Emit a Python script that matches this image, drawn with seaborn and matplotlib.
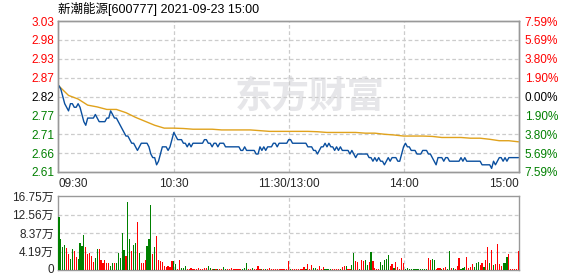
import numpy as np
import pandas as pd
import matplotlib
matplotlib.use("Agg")
import matplotlib.pyplot as plt
import matplotlib.transforms as mtransforms
import seaborn as sns

# ---------------- data ----------------
title = "新潮能源[600777] 2021-09-23 15:00"
time_ticks = [0, 60, 120, 180, 240]
time_labels = ["09:30", "10:30", "11:30/13:00", "14:00", "15:00"]
price_ticks = [2.61, 2.6625, 2.715, 2.7675, 2.82, 2.8725, 2.925, 2.9775, 3.03]
price_labels = ["2.61", "2.66", "2.71", "2.77", "2.82", "2.87", "2.93", "2.98", "3.03"]
pct_labels = ["7.59%", "5.69%", "3.80%", "1.90%", "0.00%", "1.90%", "3.80%", "5.69%", "7.59%"]
vol_ticks = [0, 4.19, 8.37, 12.56, 16.75]
vol_labels = ["0", "4.19万", "8.37万", "12.56万", "16.75万"]

# minute-by-minute price (09:30 .. 15:00, 241 points)
price = [
    2.85, 2.84, 2.82, 2.80, 2.79, 2.78, 2.80, 2.80, 2.79, 2.79,
    2.80, 2.79, 2.77, 2.75, 2.74, 2.76, 2.76, 2.76, 2.76, 2.77,
    2.76, 2.75, 2.75, 2.75, 2.75, 2.76, 2.76, 2.78, 2.77, 2.76,
    2.76, 2.75, 2.74, 2.73, 2.72, 2.71, 2.71, 2.70, 2.69, 2.69,
    2.68, 2.67, 2.68, 2.69, 2.69, 2.69, 2.69, 2.68, 2.66, 2.65,
    2.65, 2.63, 2.64, 2.66, 2.68, 2.68, 2.68, 2.67, 2.68, 2.70,
    2.72, 2.71, 2.70, 2.70, 2.70, 2.69, 2.69, 2.68, 2.69, 2.68,
    2.69, 2.69, 2.69, 2.69, 2.69, 2.69, 2.70, 2.70, 2.69, 2.69,
    2.68, 2.69, 2.69, 2.68, 2.69, 2.69, 2.69, 2.68, 2.68, 2.68,
    2.68, 2.68, 2.68, 2.68, 2.68, 2.67, 2.67, 2.68, 2.67, 2.67,
    2.67, 2.67, 2.67, 2.66, 2.66, 2.68, 2.67, 2.68, 2.67, 2.68,
    2.68, 2.68, 2.69, 2.69, 2.68, 2.69, 2.69, 2.69, 2.69, 2.69,
    2.70, 2.70, 2.69, 2.69, 2.69, 2.69, 2.69, 2.69, 2.69, 2.69,
    2.68, 2.68, 2.68, 2.67, 2.67, 2.66, 2.67, 2.68, 2.68, 2.69,
    2.68, 2.69, 2.68, 2.68, 2.67, 2.68, 2.67, 2.68, 2.67, 2.67,
    2.67, 2.67, 2.66, 2.67, 2.66, 2.65, 2.66, 2.66, 2.66, 2.66,
    2.66, 2.66, 2.65, 2.65, 2.64, 2.65, 2.64, 2.65, 2.64, 2.64,
    2.63, 2.64, 2.65, 2.64, 2.65, 2.65, 2.65, 2.64, 2.64, 2.66,
    2.68, 2.69, 2.68, 2.68, 2.67, 2.67, 2.67, 2.66, 2.66, 2.66,
    2.67, 2.67, 2.67, 2.66, 2.66, 2.65, 2.64, 2.63, 2.65, 2.65,
    2.65, 2.64, 2.65, 2.65, 2.64, 2.64, 2.64, 2.64, 2.64, 2.64,
    2.65, 2.64, 2.65, 2.64, 2.64, 2.64, 2.64, 2.64, 2.64, 2.64,
    2.64, 2.63, 2.63, 2.63, 2.63, 2.63, 2.62, 2.64, 2.63, 2.64,
    2.65, 2.65, 2.64, 2.65, 2.64, 2.65, 2.65, 2.65, 2.65, 2.65,
    2.65,
]

# average price line, read every 5 minutes
avg_time = list(range(0, 241, 5))
avg_price = [
    2.849, 2.823, 2.813, 2.796, 2.791, 2.784, 2.784, 2.775, 2.762, 2.751,
    2.740, 2.732, 2.732, 2.731, 2.729, 2.729, 2.729, 2.727, 2.727, 2.727,
    2.727, 2.725, 2.723, 2.723, 2.723, 2.723, 2.723, 2.722, 2.720, 2.720,
    2.720, 2.720, 2.718, 2.718, 2.715, 2.713, 2.710, 2.710, 2.710, 2.709,
    2.706, 2.706, 2.706, 2.704, 2.704, 2.701, 2.697, 2.697, 2.694,
]

# per-minute volume in 万 shares
volume = [
    12.07, 7.09, 5.28, 5.73, 5.13, 3.70, 2.57, 4.83, 4.38, 3.02,
    2.57, 6.19, 5.51, 8.00, 5.28, 3.70, 3.92, 3.24, 1.89, 2.79,
    4.83, 4.83, 2.34, 1.66, 2.34, 1.66, 1.66, 0.98, 1.66, 1.66,
    1.66, 3.92, 2.79, 8.45, 4.60, 3.24, 15.47, 7.09, 4.38, 5.73,
    6.19, 10.94, 3.92, 1.66, 1.66, 2.34, 5.51, 7.09, 14.79, 3.70,
    5.28, 7.77, 2.34, 2.11, 1.89, 0.98, 0.75, 0.98, 0.75, 2.11,
    2.11, 1.43, 0.30, 2.34, 0.53, 0.53, 0.98, 0.30, 0.30, 0.53,
    0.30, 0.30, 0.30, 0.53, 0.30, 0.30, 0.53, 0.53, 0.98, 0.53,
    0.30, 0.30, 0.30, 0.30, 0.30, 0.30, 0.75, 0.30, 0.30, 0.30,
    0.53, 0.30, 0.30, 0.30, 0.30, 0.30, 0.30, 0.53, 1.66, 0.30,
    0.30, 0.53, 0.30, 0.30, 0.98, 0.30, 0.30, 0.30, 0.30, 0.30,
    0.53, 0.30, 0.30, 0.30, 0.30, 0.30, 0.30, 0.30, 0.30, 0.30,
    2.11,
    0.30, 0.30, 0.30, 0.30, 0.30, 0.30, 0.30, 0.75, 0.30, 1.43,
    0.30, 1.21, 0.53, 0.53, 0.30, 0.98, 0.30, 0.75, 0.30, 0.30,
    0.30, 0.30, 0.30, 0.30, 0.30, 0.30, 0.30, 0.75, 0.98, 0.98,
    0.30, 0.30, 1.21, 3.92, 2.11, 1.89, 0.30, 2.34, 2.11, 2.34,
    1.21, 1.89, 4.15, 2.11, 0.53, 0.30, 0.30, 1.89, 1.21, 2.34,
    2.57, 3.47, 0.98, 1.43, 0.53, 1.89, 0.75, 0.30, 2.87, 1.66,
    0.30, 0.53, 0.30, 0.30, 0.30, 0.30, 0.30, 0.30, 0.30, 0.30, 0.30, 0.30,
    2.79, 2.34, 2.57, 2.34, 0.30, 0.53, 0.53, 0.30, 0.53, 0.75,
    0.30, 4.38, 0.53, 0.53, 0.30, 0.98, 2.79, 0.30, 0.53, 0.75,
    3.02, 0.53, 0.75, 1.43, 0.75, 1.66, 1.89, 1.21, 1.66, 0.75,
    2.34, 5.28, 1.66, 4.60, 1.21, 1.43, 5.96, 1.43, 0.98, 1.66,
    1.66, 3.02, 3.70, 0.30,
    0.30, 0.30, 0.30, 4.38,
]

# R = up minute (red), G = down minute (green)
direction = list(
    "GGGGRRGGRR" "GGGGRRRRRG" "GRRRRRRGGR" "GGGGGRGGRG" "GRGRRRGGGR"
    "GRRRRRRRRR" "GGRRGGGRRR" "RRRRRRRRGG" "RGRGRRGGRR" "RRRRRRGGGR"
    "RGRRRRGRGR" "RRRRRRRRRR" "R"
    "GRRRRRRRGR" "RRGGRRRRGG" "GGRRRRGRRG" "RRGGRRGRRG" "GRGRRRRGGG"
    "GGRRGRRRRR" "GGGGGGGGGGGG" "RRGGRRRGRR" "GGRGRRRGGG" "RRRRGGGRRG"
    "RRGRGRRRRG" "GGRR" "RRRR"
)

minutes = list(range(len(price)))

# ---------------- style ----------------
sns.set_theme(style="white")
plt.rcParams["font.family"] = ["Liberation Sans", "Noto Sans CJK SC", "DejaVu Sans"]

RED = "#ff0000"
GREEN = "#008000"
GRID = "#cccccc"
SPINE = "#999999"

fig = plt.figure(figsize=(5.78, 2.76), dpi=100)
ax = fig.add_axes([58 / 578, 1 - 172 / 276, 461 / 578, 151 / 276])
ax2 = fig.add_axes([58 / 578, 1 - 270.3 / 276, 461 / 578, 74.3 / 276])

xlim = (-0.5, 240.3)

# ---------------- price panel ----------------
pdf = pd.DataFrame({"t": minutes, "price": price})
adf = pd.DataFrame({"t": avg_time, "avg": avg_price})

ax.text(0.547, 0.50, "东方财富", transform=ax.transAxes, ha="center", va="center",
        fontsize=27, fontweight="bold", color="#e6e6e9",
        family=["Noto Sans CJK SC"], zorder=0)

sns.lineplot(data=adf, x="t", y="avg", ax=ax, color="#e0a21c", linewidth=1.0, zorder=3)
sns.lineplot(data=pdf, x="t", y="price", ax=ax, color="#0a4f9f", linewidth=1.0, zorder=4)

ax.set_xlim(*xlim)
ax.set_ylim(price_ticks[0], price_ticks[-1])
ax.set_xlabel("")
ax.set_ylabel("")
for y in price_ticks[1:-1]:
    ax.axhline(y, color=GRID, lw=0.9, ls=(0, (3, 2)), zorder=1)
for x in time_ticks[1:-1]:
    ax.axvline(x, color=GRID, lw=0.9, ls=(0, (3, 2)), zorder=1)

ax.set_yticks(price_ticks, price_labels)
ax.set_xticks(time_ticks, time_labels)
ax.tick_params(axis="y", length=0, pad=2.5, labelsize=8.5)
ax.tick_params(axis="x", length=0, pad=4, labelsize=8.5)
xl = ax.get_xticklabels()
xl[0].set_ha("left")
xl[-1].set_ha("right")
for i, lab in enumerate(ax.get_yticklabels()):
    lab.set_color(RED if i > 4 else ("black" if i == 4 else GREEN))

axr = ax.twinx()
axr.set_ylim(ax.get_ylim())
axr.set_yticks(price_ticks, pct_labels)
axr.tick_params(axis="y", length=0, pad=4, labelsize=8.5)
for i, lab in enumerate(axr.get_yticklabels()):
    lab.set_color(RED if i > 4 else ("black" if i == 4 else GREEN))

for a in (ax, axr):
    for s in a.spines.values():
        s.set_color(SPINE)
        s.set_linewidth(1.0)

# ---------------- volume panel ----------------
vdf = pd.DataFrame({"t": minutes, "vol": volume, "dir": direction})
sns.barplot(data=vdf, x="t", y="vol", hue="dir", palette={"R": RED, "G": GREEN},
            native_scale=True, dodge=False, width=0.62, saturation=1,
            errorbar=None, legend=False, ax=ax2, zorder=3,
            edgecolor="none", linewidth=0)
for p in ax2.patches:
    p.set_edgecolor("none")
    p.set_linewidth(0)
    p.set_antialiased(False)
ax2.set_xlim(*xlim)
ax2.set_ylim(vol_ticks[0], vol_ticks[-1])
ax2.set_xlabel("")
ax2.set_ylabel("")
for y in vol_ticks[1:-1]:
    ax2.axhline(y, color=GRID, lw=0.9, ls=(0, (3, 2)), zorder=1)
for x in time_ticks[1:-1]:
    ax2.axvline(x, color=GRID, lw=0.9, ls=(0, (3, 2)), zorder=1)
ax2.set_xticks([])
ax2.set_yticks(vol_ticks, vol_labels)
ax2.tick_params(axis="y", length=0, pad=3, labelsize=8.5)
zero_lab = ax2.get_yticklabels()[0]
zero_lab.set_transform(zero_lab.get_transform() +
                       mtransforms.ScaledTranslation(0, 1.5 / 72, fig.dpi_scale_trans))
for s in ax2.spines.values():
    s.set_color(SPINE)
    s.set_linewidth(1.0)

fig.text(58 / 578, 1 - 9 / 276, title, ha="left", va="center", fontsize=9,
         family=["Liberation Sans", "Noto Sans CJK SC"], color="black")

fig.savefig("out.png", dpi=100)
